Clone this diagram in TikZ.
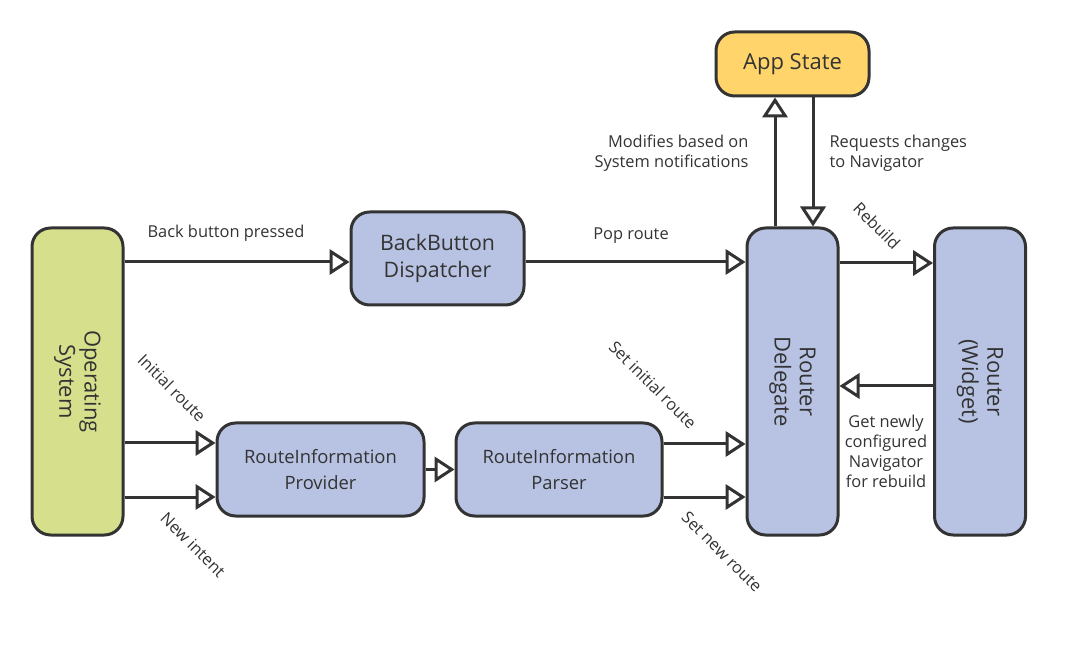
\documentclass[tikz,border=0pt]{standalone}
\usepackage{fontspec}
\setmainfont{Open Sans}
\usetikzlibrary{arrows.meta}
\definecolor{ink}{HTML}{333333}
\definecolor{blueb}{HTML}{B8C3E4}
\definecolor{greenb}{HTML}{D6E08C}
\definecolor{yellowb}{HTML}{FFD56B}
\begin{document}
\begin{tikzpicture}[x=0.75pt,y=-0.75pt,
  box/.style={draw=ink,line width=2.25pt,rounded corners=14pt,text=ink,align=center,
    inner sep=0pt,font=\fontsize{13.8}{19.5}\selectfont},
  tall/.style={box,minimum height=68.25pt,minimum width=230.25pt,font=\fontsize{16.5}{19}\selectfont},
  arr/.style={draw=ink,line width=2.25pt,-{Triangle[length=15pt,width=19pt,fill=white,line join=miter]}},
  lbl/.style={text=ink,font=\fontsize{12.3}{15}\selectfont,inner sep=1pt}]
\useasboundingbox (0,0) rectangle (1071,648);
% nodes
\node[tall,fill=greenb,rotate=-90] (os) at (77.5,381.5) {Operating\\System};
\node[box,fill=blueb,minimum width=129.75pt,minimum height=69.75pt,font=\fontsize{16}{20}\selectfont] (bb) at (437.5,258.5) {BackButton\\Dispatcher};
\node[box,fill=yellowb,minimum width=114.75pt,minimum height=48pt,font=\fontsize{16.5}{18}\selectfont] (app) at (792.5,64) {App State};
\node[tall,fill=blueb,rotate=-90] (rd) at (792.5,381.5) {Router\\Delegate};
\node[tall,fill=blueb,rotate=-90] (rw) at (980,381.5) {Router\\(Widget)};
\node[box,fill=blueb,minimum width=155.25pt,minimum height=69.75pt] (rip) at (320.5,469.5) {RouteInformation\\Provider};
\node[box,fill=blueb,minimum width=154.5pt,minimum height=69.75pt] (rpa) at (559,469.5) {RouteInformation\\Parser};
% connectors
\draw[arr] (os.north |- 0,262) -- (bb.west |- 0,262);
\draw[arr] (bb.east |- 0,262) -- (rd.south |- 0,262);
\draw[arr] (rd.west -| 775,0) -- (app.south -| 775,0);
\draw[arr] (app.south -| 813,0) -- (rd.west -| 813,0);
\draw[arr] (rd.north |- 0,263) -- (rw.south |- 0,263);
\draw[arr] (rw.south |- 0,386) -- (rd.north |- 0,386);
\draw[arr] (os.north |- 0,443) -- (rip.west |- 0,443);
\draw[arr] (os.north |- 0,497) -- (rip.west |- 0,497);
\draw[arr] (rip.east) -- (rpa.west);
\draw[arr] (rpa.east |- 0,444) -- (rd.south |- 0,444);
\draw[arr] (rpa.east |- 0,497) -- (rd.south |- 0,497);
% labels
\node[lbl] (l1) at (226,233) {Back button pressed};
\node[lbl] (l2) at (631,236) {Pop route};
\node[lbl,align=right,anchor=east] (l3) at (750,153) {Modifies based on\\System notifications};
\node[lbl,align=left,anchor=west] (l4) at (828,153) {Requests changes\\to Navigator};
\node[lbl,rotate=-45] (l5) at (877,226) {Rebuild};
\node[lbl,align=center] (l6) at (886,451) {Get newly\\configured\\Navigator\\for rebuild};
\node[lbl,rotate=-45] (l7) at (172,388) {Initial route};
\node[lbl,rotate=-45] (l8) at (193,545) {New intent};
\node[lbl,rotate=-45] (l9) at (653,385) {Set initial route};
\node[lbl,rotate=-45] (l10) at (722,552) {Set new route};
\end{tikzpicture}
\end{document}
